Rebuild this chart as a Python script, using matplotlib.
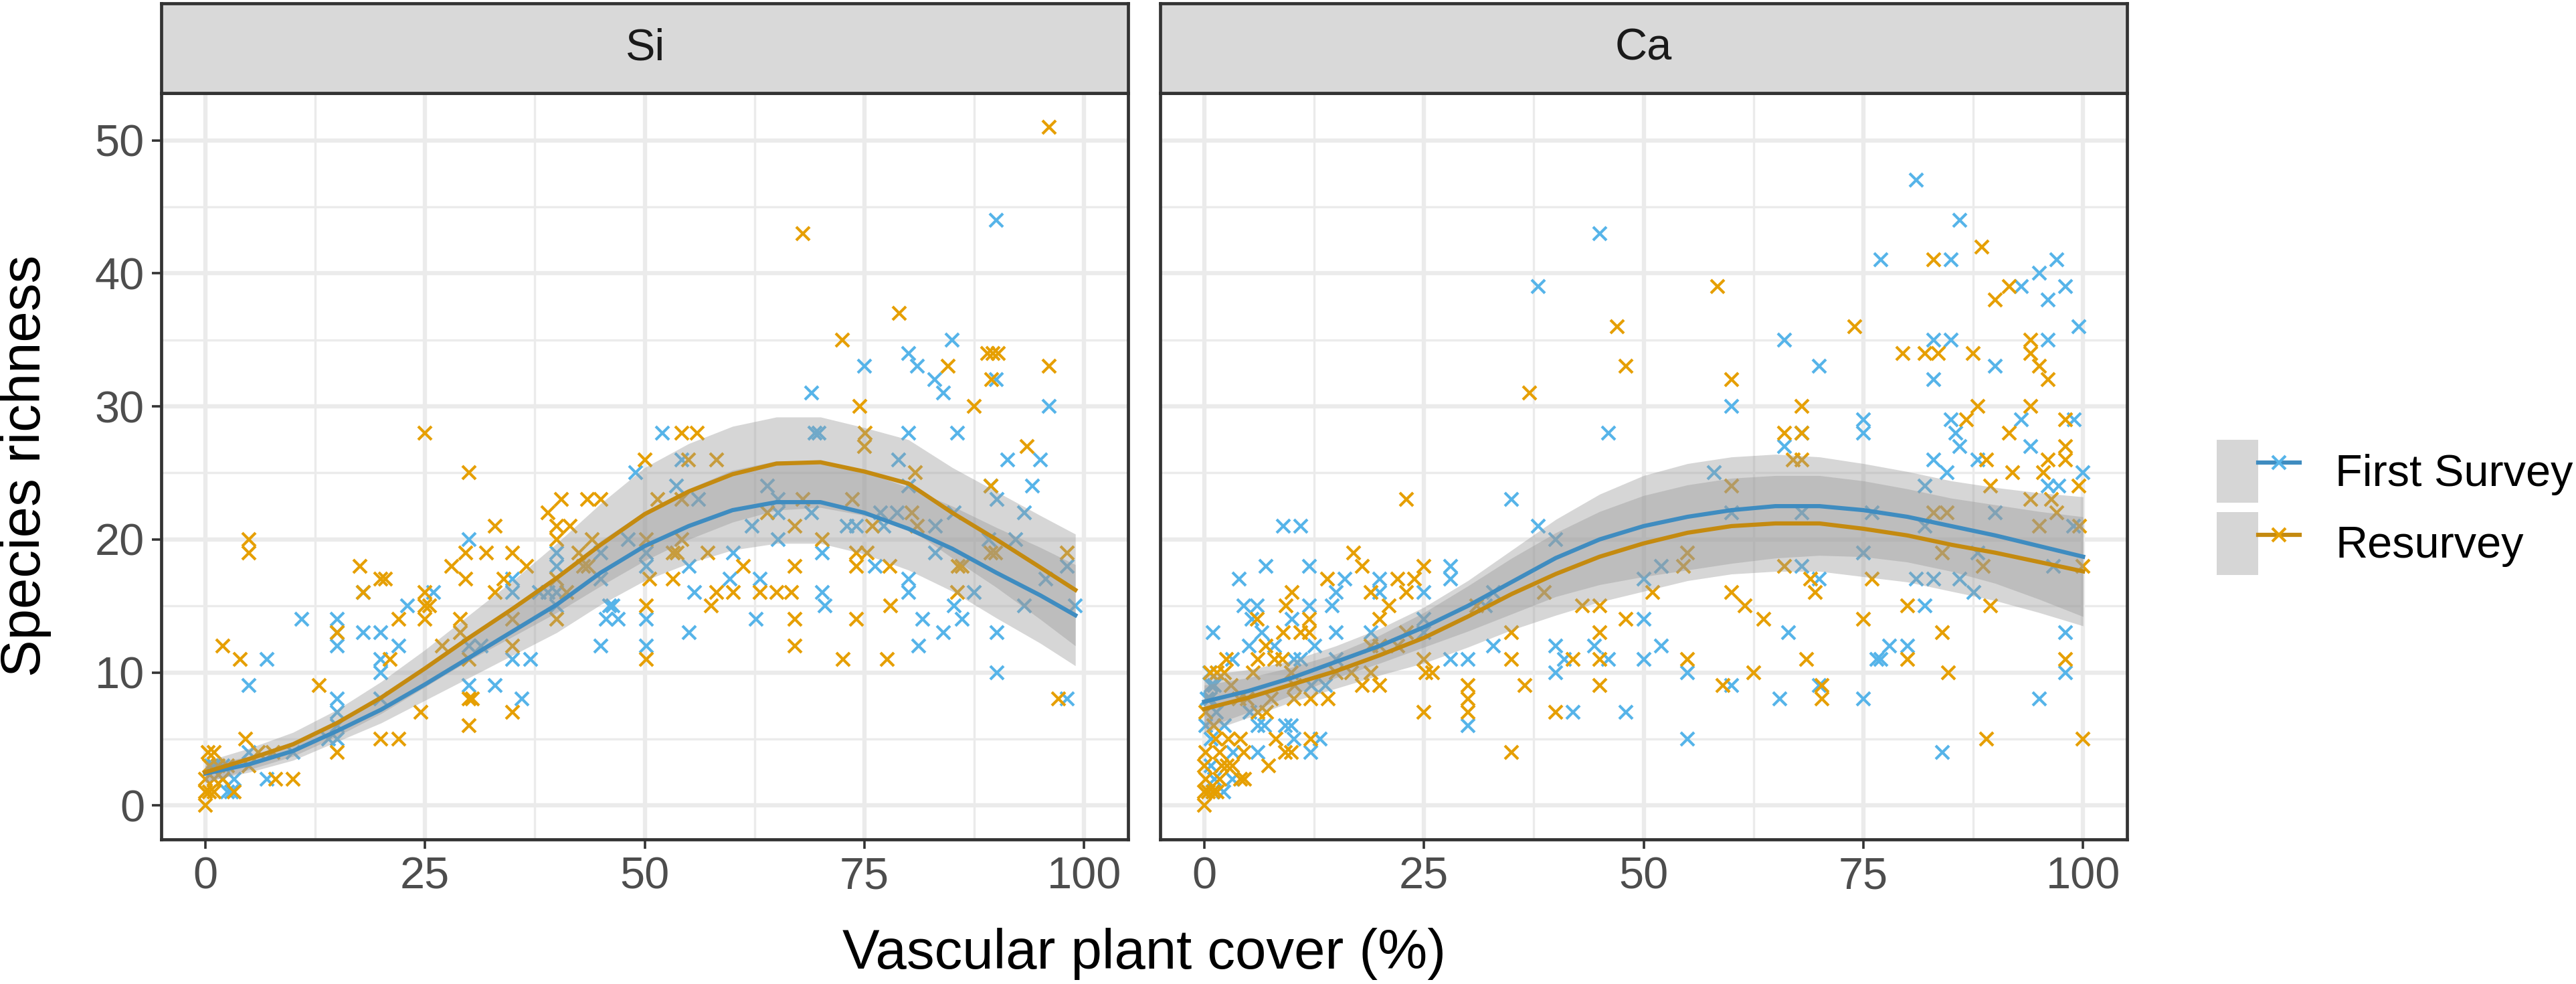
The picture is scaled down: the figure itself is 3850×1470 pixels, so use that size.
import numpy as np
import matplotlib
matplotlib.use("Agg")
import matplotlib.pyplot as plt
from matplotlib.lines import Line2D
from matplotlib.patches import Patch
from matplotlib.legend_handler import HandlerTuple

plt.rcParams['font.family'] = ['Liberation Sans', 'DejaVu Sans']

# ---- data: (vascular plant cover %, species richness) ----
si_first = [
    (0.7, 3), (1, 3), (2, 2), (2.5, 1), (3.3, 2), (2, 3), (3, 1), (5, 4), (7, 2), (10, 4),
    (5, 9), (7, 11), (11, 14), (15, 14), (15, 13), (15, 12), (15, 8), (15, 7), (15, 6), (14, 5), (15, 5),
    (18, 16), (18, 13), (20, 13), (22, 12), (20, 11), (20, 10), (20, 8), (23, 15), (26, 16),
    (30, 20), (30, 12), (31.4, 12), (30, 9), (33, 9), (35, 17), (35, 16), (35, 11), (37, 11), (36, 8),
    (40, 19), (40, 18), (38, 16), (39, 16), (40, 16), (40, 15), (45, 19), (45, 17), (46, 15),
    (45.6, 14), (47, 14), (45, 12),
    (49, 25), (52, 28), (69.4, 28), (69.8, 28), (80, 28), (85.6, 28), (54.2, 26), (78.9, 26), (91.3, 26), (95, 26),
    (53.6, 24), (64, 24), (89.4, 24), (94.1, 24), (80, 24), (56.1, 23), (65.2, 23), (90.1, 23),
    (65.2, 22), (69, 22), (76.8, 22), (78.7, 22), (85.2, 22), (93.2, 22),
    (62.2, 21), (73, 21), (74.1, 21), (77.2, 21), (83.1, 21),
    (48.1, 20), (65.2, 20), (89.2, 20), (92.2, 20),
    (50.2, 19), (60.1, 19), (70.2, 19), (83.1, 19),
    (50.2, 18), (55.1, 18), (76.2, 18), (98.1, 18),
    (59.7, 17), (63.1, 17), (80, 17), (95.6, 17),
    (55.7, 16), (70.2, 16), (80, 16), (87.5, 16),
    (46.4, 15), (70.5, 15), (85.2, 15), (93.2, 15), (99, 15),
    (50.2, 14), (62.7, 14), (81.6, 14), (86.1, 14),
    (55.1, 13), (84, 13), (90.1, 13),
    (50.2, 12), (81.2, 12), (90.1, 10), (98.1, 8),
    (90, 44), (85, 35), (80, 34), (75, 33), (81, 33), (83, 32), (90, 32), (69, 31), (84, 31), (96, 30),
]
si_resurvey = [
    (0, 0), (0, 1), (0.5, 1), (1, 1), (3.3, 1), (0, 2), (1, 2), (2, 2), (0.5, 3), (1.5, 3), (2.5, 3),
    (5, 3), (0.3, 4), (1, 4), (6, 4), (7.7, 4), (4.6, 5), (8, 2), (10, 2),
    (2, 12), (4, 11), (5, 20), (5, 19), (13, 9), (15, 13), (15, 4), (17.6, 18), (20, 17), (20.5, 17),
    (18, 16), (25, 16), (25, 15), (25.5, 15), (25, 14), (22, 14), (21, 11), (20, 5), (22, 5), (24.5, 7),
    (29.6, 19), (32, 19), (35, 19), (33, 21), (28, 18), (29.6, 17), (36.6, 18), (34, 17), (33, 16),
    (29, 14), (29, 13), (30, 11), (35, 14), (35, 12), (30, 8), (30.4, 8), (35, 7), (30, 6), (27, 12),
    (40, 17), (40, 14), (41.1, 16), (42.5, 19), (43, 18), (43.6, 18), (44, 20), (25, 28), (30, 25),
    (39, 22), (40.5, 23), (43.5, 23), (45, 23), (40, 21), (41.5, 21), (40, 20),
    (54.2, 28), (56, 28), (75.1, 28), (75, 27), (93.5, 27), (50, 26), (55, 26), (58.2, 26), (80.8, 25),
    (89.4, 24), (51.5, 23), (54.2, 23), (68, 23), (73.6, 23), (64, 22), (80.4, 22), (67.1, 21),
    (75.9, 21), (81, 21),
    (50.2, 20), (54.2, 20), (70.2, 20), (53.2, 19), (53.7, 19), (57.2, 19), (74.1, 19), (75.3, 19),
    (89.4, 19), (89.9, 19), (98.1, 19),
    (61.2, 18), (67.1, 18), (74.1, 18), (77.9, 18), (85.7, 18), (86.1, 18), (50.6, 17), (53.2, 17),
    (58.2, 16), (60.1, 16), (63.1, 16), (65, 16), (66.7, 16), (85.6, 16),
    (50.2, 15), (57.6, 15), (78, 15), (67.1, 14), (74.1, 14), (67.1, 12), (50.2, 11), (72.6, 11),
    (77.6, 11), (97.1, 8),
    (96, 51), (68, 43), (79, 37), (72.5, 35), (89, 34), (89.6, 34), (90.2, 34), (84.5, 33), (96, 33),
    (89.5, 32), (74.5, 30), (87.5, 30),
]
ca_first = [
    (1, 1), (2.2, 1), (1.2, 2), (3.2, 2), (0.8, 3), (3.3, 4), (6.1, 4), (12.1, 4), (0.8, 5), (10.2, 5),
    (13.2, 5), (0.2, 6), (2.3, 6), (6.1, 6), (6.9, 6), (9.2, 6), (9.9, 6), (1.4, 7), (5.2, 7), (0.7, 8),
    (0.3, 8), (0.8, 9), (1.2, 9), (0.6, 10), (12.2, 9), (13.8, 9),
    (1, 13), (7, 18), (12, 18), (28, 18), (4, 17), (16, 17), (20, 17), (28, 17), (15, 16), (20, 16),
    (25, 16), (4.5, 15), (6, 15), (12, 15), (14.6, 15), (32, 15), (32.9, 16), (5.4, 14), (10, 14),
    (25, 14), (6.6, 13), (15, 13), (19, 13), (25, 13), (5.1, 12), (8, 12), (12.6, 12), (32.9, 12),
    (3.2, 11), (10.2, 11), (11, 11), (15, 11), (28, 11), (30, 11), (9, 21), (11, 21), (35, 23), (38, 21),
    (30, 6),
    (66, 27), (83, 26), (84.5, 25), (58, 25), (82, 24), (60, 22), (68, 22), (76, 22), (82, 21), (40, 20),
    (75, 19), (52, 18), (68, 18), (50, 17), (70, 17), (81, 17), (83, 17), (82, 15), (50, 14), (66.5, 13),
    (40, 12), (44.4, 12), (52, 12), (78, 12), (80, 12), (41, 11), (46, 11), (50, 11), (76.5, 11), (77, 11),
    (40, 10), (55, 10), (60, 9), (70, 9), (65.5, 8), (75, 8), (42, 7), (48, 7), (55, 5), (84, 4),
    (86, 27), (94, 27), (88, 26), (100, 25), (96, 24), (97.2, 24), (90, 22), (98.9, 21), (88, 19),
    (96.6, 18), (86, 17), (87.6, 16), (98, 13), (98, 10), (95, 8),
    (81, 47), (45, 43), (86, 44), (77, 41), (85, 41), (97, 41), (95, 40), (38, 39), (93, 39), (98, 39),
    (96, 38), (99.5, 36), (66, 35), (83, 35), (85, 35), (96, 35), (70, 33), (90, 33), (83, 32), (60, 30),
    (85, 29), (85.5, 28), (93, 29), (99, 29), (75, 29), (75, 28), (68, 28), (46, 28),
]
ca_resurvey = [
    (0, 0), (0, 1), (0.5, 1), (1, 1), (1.5, 1), (0.2, 2), (1.8, 2), (4.1, 2), (4.6, 2), (0, 3), (2, 3),
    (2.6, 3), (3.2, 3), (7.3, 3), (0.2, 4), (1.8, 4), (4.5, 4), (9.2, 4), (9.9, 4), (1.3, 5), (2.8, 5),
    (4.1, 5), (8.2, 5), (12.1, 5), (1.1, 6), (0.2, 7), (6.1, 7), (7.1, 7), (4, 8), (4.9, 8), (7.6, 8),
    (10.2, 8), (12.1, 8), (14.1, 8), (3.1, 9), (10.3, 9), (0.7, 10), (1.5, 10), (2.3, 10), (5.6, 10),
    (23, 23), (17, 19), (18, 18), (25, 18), (14, 17), (22, 17), (23.9, 17), (10, 16), (19, 16), (23, 16),
    (38.7, 16), (9.3, 15), (21, 15), (31, 15), (6, 14), (12, 14), (20, 14), (9, 13), (11, 13), (12, 13),
    (23, 13), (35, 13), (7, 12), (19, 12), (20, 12), (22, 12), (2.5, 11), (6.1, 11), (8, 11), (8.9, 11),
    (25, 11), (35, 11), (9.9, 10), (15, 10), (16.8, 10), (19, 10), (25.2, 10), (26, 10), (18, 9), (20, 9),
    (30, 9), (36.5, 9), (30, 8), (25, 7), (30, 7), (40, 7), (35, 4),
    (67, 26), (68, 26), (60, 24), (83, 22), (84.5, 22), (55, 19), (84, 19), (54.5, 18), (66, 18), (69, 17),
    (76, 17), (51, 16), (60, 16), (69.5, 16), (43, 15), (45, 15), (61.5, 15), (80, 15), (48, 14),
    (63.7, 14), (75, 14), (45, 13), (84, 13), (42, 11), (45, 11), (55, 11), (68.5, 11), (80, 11),
    (62.5, 10), (84.7, 10), (45, 9), (59, 9), (70.3, 9), (70.3, 8),
    (98, 27), (89, 26), (96, 26), (98, 26), (92, 25), (95.5, 25), (89.5, 24), (99.5, 24), (94, 23),
    (96.4, 23), (97, 22), (95, 21), (99.6, 21), (88.6, 18), (100, 18), (89.5, 15), (98, 11), (89, 5), (100, 5),
    (88.5, 42), (83, 41), (58.4, 39), (90, 38), (91.6, 39), (47, 36), (74, 36), (94, 35), (79.5, 34),
    (82, 34), (83.5, 34), (87.5, 34), (94, 34), (48, 33), (95, 33), (60, 32), (96, 32), (37, 31), (68, 30),
    (88, 30), (94, 30), (86.7, 29), (98, 29), (66, 28), (68, 28), (91.6, 28),
]

# ---- smoothed fits and half-widths of their confidence bands ----
si_fit_x = [0, 5, 10, 15, 20, 25, 30, 35, 40, 45, 50, 55, 60, 65, 70, 75, 80, 85, 90, 95, 99]
si_first_fit = [2.4, 3.1, 4.1, 5.6, 7.2, 9.1, 11.1, 13.1, 15.1, 17.5, 19.5, 21.0, 22.2, 22.8, 22.8,
                22.0, 20.8, 19.3, 17.5, 15.8, 14.3]
si_first_se = [0.6, 0.6, 0.7, 0.8, 1.0, 1.2, 1.5, 1.8, 2.1, 2.4, 2.6, 2.8, 3.0, 3.1, 3.1,
               3.1, 3.1, 3.2, 3.4, 3.6, 3.8]
si_re_fit = [2.5, 3.5, 4.6, 6.2, 8.1, 10.3, 12.6, 14.8, 17.1, 19.6, 21.9, 23.6, 24.9, 25.7, 25.8,
             25.1, 24.2, 22.0, 20.0, 17.9, 16.2]
si_re_se = [0.8, 0.8, 0.9, 1.0, 1.2, 1.4, 1.7, 2.1, 2.6, 3.1, 3.5, 3.6, 3.6, 3.5, 3.4,
            3.3, 3.3, 3.4, 3.6, 3.9, 4.2]

ca_fit_x = [0, 5, 10, 15, 20, 25, 30, 35, 40, 45, 50, 55, 60, 65, 70, 75, 80, 85, 90, 95, 100]
ca_first_fit = [7.8, 8.6, 9.6, 10.8, 12.0, 13.4, 15.0, 16.8, 18.6, 20.0, 21.0, 21.7, 22.2, 22.5, 22.5,
                22.2, 21.7, 21.0, 20.3, 19.5, 18.7]
ca_first_se = [2.0, 1.6, 1.3, 1.2, 1.3, 1.5, 1.9, 2.4, 2.9, 3.4, 3.8, 4.0, 4.0, 3.9, 3.7,
               3.5, 3.4, 3.4, 3.6, 4.0, 4.5]
ca_re_fit = [7.25, 8.1, 9.1, 10.1, 11.3, 12.6, 14.2, 15.9, 17.4, 18.7, 19.7, 20.5, 21.0, 21.2, 21.2,
             20.8, 20.3, 19.6, 19.0, 18.3, 17.6]
ca_re_se = [1.8, 1.5, 1.3, 1.3, 1.5, 1.9, 2.3, 2.7, 3.1, 3.4, 3.6, 3.6, 3.6, 3.6, 3.6,
            3.6, 3.5, 3.5, 3.6, 3.8, 4.1]

surveys = ["First Survey", "Resurvey"]
facets = ["Si", "Ca"]

# ---- style ----
pt_colors = ["#56B4E9", "#E69F00"]
line_colors = ["#3F8CC0", "#C48A10"]
W, H = 3850, 1470


def box(x0, y0, x1, y1):
    return [x0 / W, 1 - y1 / H, (x1 - x0) / W, (y1 - y0) / H]


fig = plt.figure(figsize=(W / 100, H / 100), dpi=100)

panel_data = [
    (si_fit_x, [si_first, si_resurvey], [si_first_fit, si_re_fit], [si_first_se, si_re_se]),
    (ca_fit_x, [ca_first, ca_resurvey], [ca_first_fit, ca_re_fit], [ca_first_se, ca_re_se]),
]
lefts = [241, 1734]
panel_w = 1445

for i, (facet, (fx, pts, fits, ses)) in enumerate(zip(facets, panel_data)):
    x0 = lefts[i]
    ax = fig.add_axes(box(x0, 139, x0 + panel_w, 1254))
    strip = fig.add_axes(box(x0, 5, x0 + panel_w, 139))

    ax.set_xlim(-5, 105)
    ax.set_ylim(-2.55, 53.55)
    ax.set_xticks([0, 25, 50, 75, 100])
    ax.set_xticks([12.5, 37.5, 62.5, 87.5], minor=True)
    ax.set_yticks([0, 10, 20, 30, 40, 50])
    ax.set_yticks([5, 15, 25, 35, 45], minor=True)
    ax.grid(which="major", color="#EBEBEB", lw=4.6)
    ax.grid(which="minor", color="#EBEBEB", lw=2.4)
    ax.set_axisbelow(True)
    ax.tick_params(which="minor", length=0)
    ax.tick_params(which="major", length=10, width=2.6, color="#333333",
                   labelsize=48, labelcolor="#4D4D4D", pad=8)
    if i > 0:
        ax.tick_params(left=False, labelleft=False)
    for sp in ax.spines.values():
        sp.set_color("#333333")
        sp.set_linewidth(3.4)

    for k in range(2):
        arr = np.array(pts[k])
        ax.plot(arr[:, 0], arr[:, 1], ls="none", marker="x", ms=14, mew=3.0,
                color=pt_colors[k], zorder=2)
    for k in range(2):
        f = np.array(fits[k])
        s = np.array(ses[k])
        ax.fill_between(fx, f - s, f + s, color="#999999", alpha=0.4, lw=0, zorder=3)
    for k in range(2):
        ax.plot(fx, fits[k], color=line_colors[k], lw=4.5, zorder=4,
                solid_joinstyle="round")

    strip.set_facecolor("#D9D9D9")
    strip.set_xticks([])
    strip.set_yticks([])
    for sp in strip.spines.values():
        sp.set_color("#333333")
        sp.set_linewidth(3.4)
    strip.text(0.5, 0.5, facet, ha="center", va="center", fontsize=48, color="#1A1A1A",
               transform=strip.transAxes)

fig.text(38 / W, 1 - 696 / H, "Species richness", rotation=90, ha="center", va="center",
         fontsize=60)
fig.text(1710 / W, 1 - 1425 / H, "Vascular plant cover (%)", ha="center", va="center",
         fontsize=60)

handles = []
for k in range(2):
    bg = Patch(facecolor="#999999", alpha=0.4, edgecolor="none")
    ln = Line2D([], [], color=line_colors[k], lw=4.5, marker="x", ms=14, mew=3.0,
                mec=pt_colors[k])
    handles.append((bg, ln))
fig.legend(handles, surveys, handler_map={tuple: HandlerTuple(ndivide=None)},
           loc="center left", bbox_to_anchor=(3313 / W, 1 - 758 / H), frameon=False,
           fontsize=48, handlelength=1.86, handleheight=1.8, labelspacing=0.2,
           handletextpad=0.8, borderpad=0, borderaxespad=0)

fig.savefig("out.png", dpi=100)
